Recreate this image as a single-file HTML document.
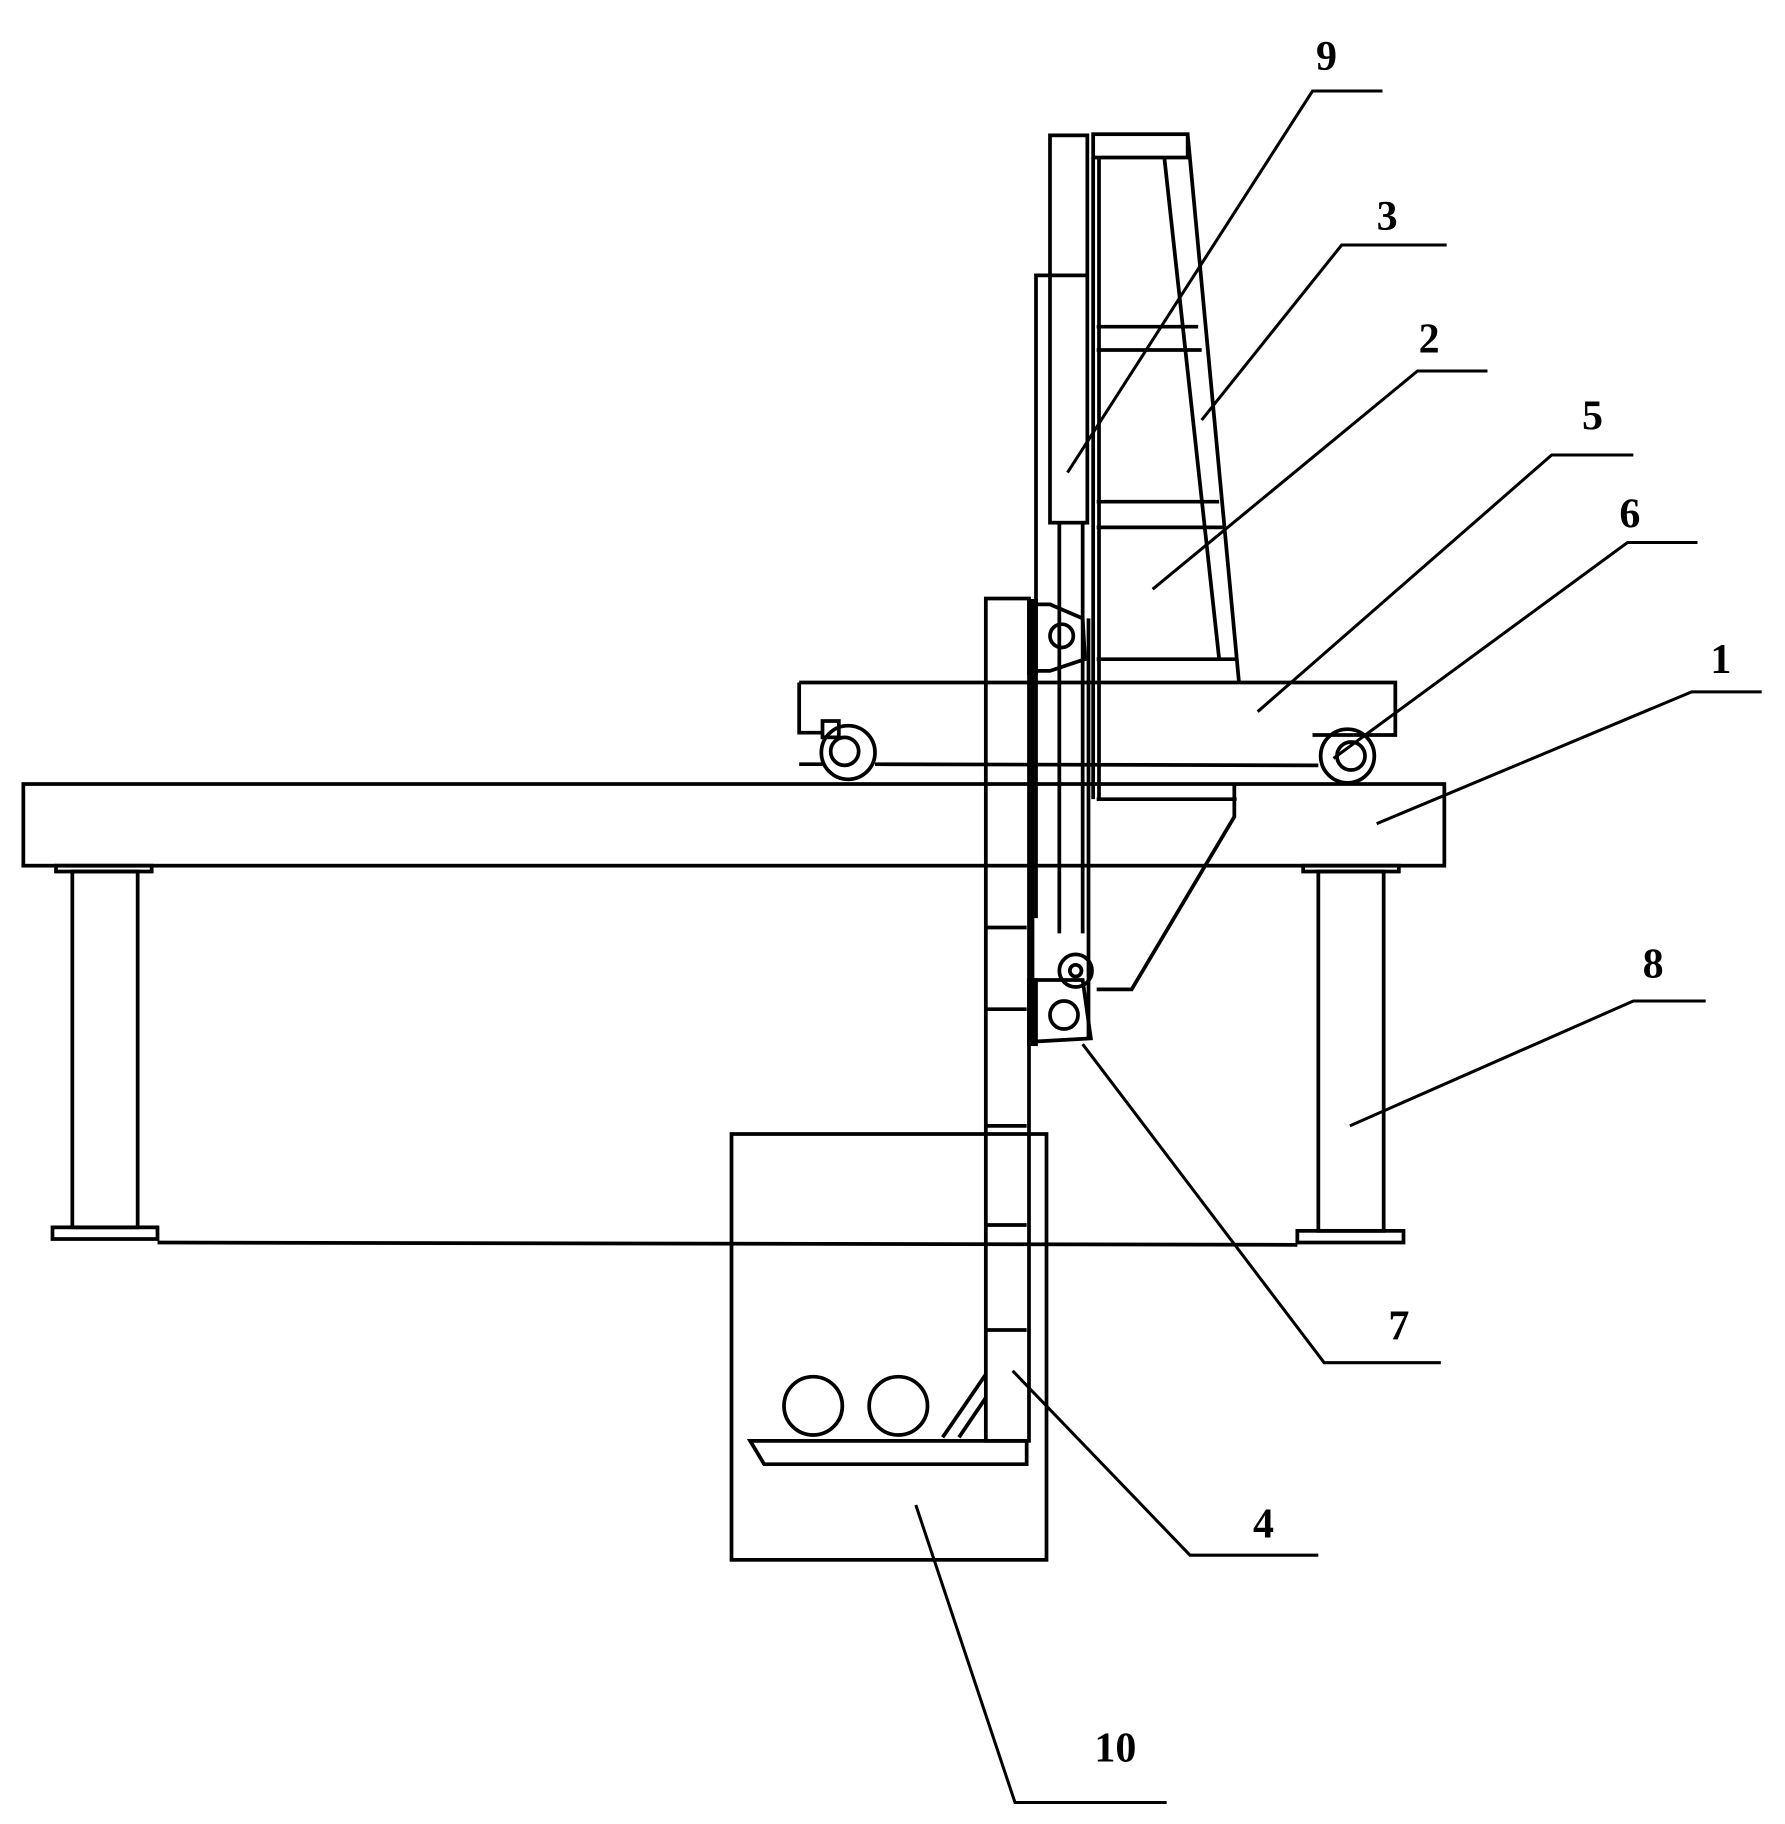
<!DOCTYPE html>
<html><head><meta charset="utf-8"><style>
html,body{margin:0;padding:0;background:#fff;}
svg{display:block;}
text{font-family:"Liberation Serif",serif;font-size:36px;font-weight:bold;fill:#000;}
</style></head><body>
<svg width="1785" height="1824" viewBox="0 0 1530 1563.4" xmlns="http://www.w3.org/2000/svg">
<g fill="none" stroke="#000" stroke-width="3.2" stroke-linejoin="miter">
<rect x="20" y="672" width="1218" height="70"/>
<rect x="48" y="742" width="82" height="5"/>
<rect x="62" y="747" width="56" height="305"/>
<rect x="45" y="1052" width="90" height="10"/>
<rect x="1117" y="742" width="82" height="5"/>
<rect x="1130" y="747" width="56" height="308"/>
<rect x="1112" y="1055" width="91" height="10"/>
<line x1="135" y1="1065" x2="1112" y2="1067"/>
<path d="M685 585 H1196 V630 H1160 M685 585 V628 H705"/>
<line x1="750" y1="655" x2="1130" y2="656"/>
<line x1="685" y1="655" x2="705" y2="655"/>
<circle cx="727" cy="645" r="23"/>
<circle cx="724" cy="644" r="12"/>
<rect x="705" y="618" width="14" height="14"/>
<circle cx="1155" cy="648" r="23"/>
<circle cx="1158" cy="648" r="12"/>
<line x1="1125" y1="630" x2="1160" y2="630"/>
<rect x="937" y="115" width="81" height="20"/>
<line x1="998" y1="135" x2="1045" y2="565"/>
<line x1="1018" y1="115" x2="1062" y2="585"/>
<line x1="937" y1="135" x2="937" y2="685"/>
<line x1="942" y1="135" x2="942" y2="685"/>
<line x1="940" y1="280" x2="1027" y2="280"/>
<line x1="940" y1="300" x2="1030" y2="300"/>
<line x1="940" y1="430" x2="1045" y2="430"/>
<line x1="940" y1="452" x2="1048" y2="452"/>
<line x1="940" y1="565" x2="1060" y2="565"/>
<rect x="900" y="116" width="32" height="332"/>
<path d="M888 787 V236 H931"/>
<line x1="908" y1="448" x2="908" y2="800"/>
<line x1="928" y1="448" x2="928" y2="800"/>
<rect x="845" y="513" width="37" height="722"/>
<line x1="845" y1="795" x2="880" y2="795"/>
<line x1="845" y1="865" x2="880" y2="865"/>
<line x1="845" y1="965" x2="880" y2="965"/>
<line x1="845" y1="1050" x2="880" y2="1050"/>
<line x1="845" y1="1140" x2="880" y2="1140"/>
<line x1="885" y1="575" x2="885" y2="890"/>
<line x1="933" y1="530" x2="933" y2="890"/>
<path d="M882 518 L900 518 L928 530 L930 565 L900 575 L882 575"/>
<circle cx="910" cy="545" r="10"/>
<rect x="882" y="515" width="6" height="62" fill="#000"/>
<circle cx="922" cy="832" r="14"/>
<circle cx="922" cy="832" r="5"/>
<path d="M882 840 L928 840 L935 890 L882 893 Z"/>
<circle cx="912" cy="870" r="12"/>
<rect x="882" y="840" width="6" height="55" fill="#000"/>
<path d="M940 685 H1060 M1058 672 V700 L970 848 H940"/>
<rect x="627" y="972" width="270" height="365"/>
<path d="M643 1235 H880 V1255 H655 Z"/>
<circle cx="697" cy="1205" r="25"/>
<circle cx="770" cy="1205" r="25"/>
<line x1="808" y1="1232" x2="845" y2="1178"/>
<line x1="822" y1="1232" x2="845" y2="1198"/>
</g>
<g fill="none" stroke="#000" stroke-width="2.6">
<polyline points="915,405 1125,78 1185,78"/>
<polyline points="1030,360 1150,210 1240,210"/>
<polyline points="988,505 1215,318 1275,318"/>
<polyline points="1078,610 1330,390 1400,390"/>
<polyline points="1143,650 1395,465 1455,465"/>
<polyline points="1180,706 1450,593 1510,593"/>
<polyline points="1157,965 1400,858 1462,858"/>
<polyline points="928,895 1135,1168 1235,1168"/>
<polyline points="868,1175 1020,1333 1130,1333"/>
<polyline points="785,1290 870,1545 1000,1545"/>
</g>
<text x="1128" y="60">9</text>
<text x="1180" y="197">3</text>
<text x="1216" y="302">2</text>
<text x="1356" y="368">5</text>
<text x="1388" y="452">6</text>
<text x="1466" y="577">1</text>
<text x="1408" y="838">8</text>
<text x="1190" y="1148">7</text>
<text x="1074" y="1318">4</text>
<text x="938" y="1510">10</text>
</svg>
</body></html>
